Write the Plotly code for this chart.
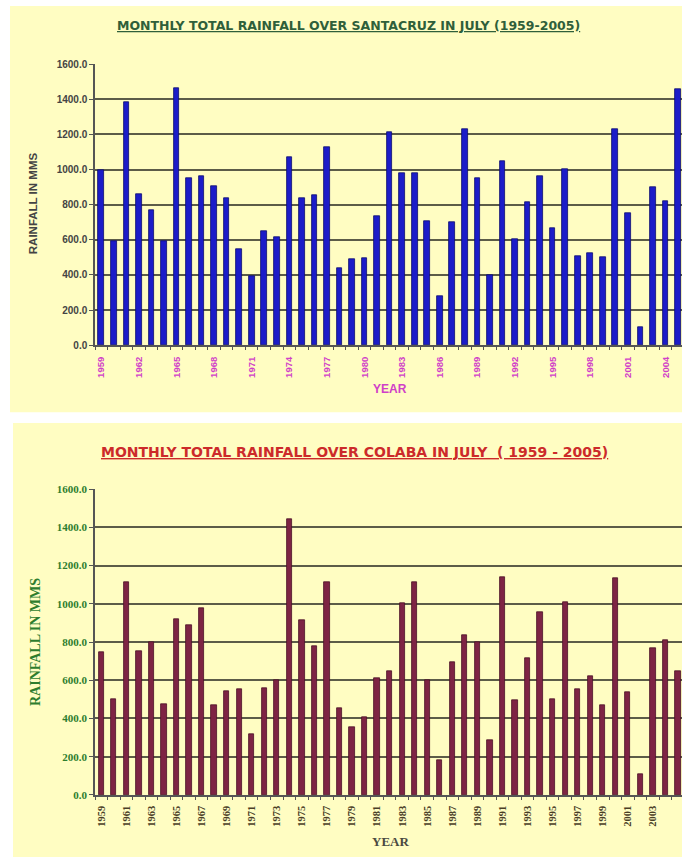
import plotly.graph_objects as go

years = list(range(1959, 2006))

santacruz_mm = [995, 595, 1385, 862, 766, 592, 1463, 950, 963, 903,
                837, 548, 393, 650, 613, 1071, 837, 856, 1127, 441,
                488, 497, 734, 1211, 978, 978, 707, 282, 701, 1230,
                950, 398, 1049, 604, 813, 963, 664, 1000, 505, 523,
                499, 1230, 750, 103, 899, 819, 1458]

colaba_mm = [748, 502, 1115, 754, 797, 473, 920, 886, 977, 470,
             542, 551, 318, 559, 602, 1445, 912, 779, 1115, 455,
             353, 408, 611, 650, 1003, 1115, 602, 180, 692, 838,
             797, 284, 1139, 495, 717, 955, 499, 1010, 551, 619,
             468, 1132, 537, 110, 769, 809, 645]

top_tick_years = years[::3]
bottom_tick_years = years[::2]
y_ticks = [0, 200, 400, 600, 800, 1000, 1200, 1400, 1600]
y_tick_text = [f"{v:.1f}" for v in y_ticks]

title_top = "MONTHLY TOTAL RAINFALL OVER SANTACRUZ IN JULY (1959-2005)"
title_bottom = "MONTHLY TOTAL RAINFALL OVER COLABA IN JULY  ( 1959 - 2005)"

W, H = 682, 863
def py(px):
    return 1 - px / H
def px_(x):
    return x / W

YELLOW = "#FFFDC2"
GRID = "#5c5c48"
SANS = "Liberation Sans, Arial"
SERIF = "Liberation Serif, Times New Roman"

fig = go.Figure()
fig.add_trace(go.Bar(x=years, y=santacruz_mm, xaxis="x", yaxis="y", width=0.45,
                     marker=dict(color="#1c1cc8", line=dict(color="#0c0c70", width=0.8)),
                     showlegend=False))
fig.add_trace(go.Bar(x=years, y=colaba_mm, xaxis="x2", yaxis="y2", width=0.42,
                     marker=dict(color="#7e2444", line=dict(color="#4a1026", width=0.8)),
                     showlegend=False))

xr = [1958.5, 2005.32]
common_x = dict(range=xr, showgrid=False, zeroline=False, showline=True, linecolor="#555555",
                linewidth=1.5, tickangle=-90, ticks="outside", tickcolor="rgba(0,0,0,0)",
                minor=dict(ticks="outside", dtick=1, tick0=1958.5, ticklen=3, tickcolor="#555555"))
common_y = dict(range=[0, 1600], tickvals=y_ticks, ticktext=y_tick_text, showgrid=True,
                gridcolor=GRID, gridwidth=1.5, zeroline=False, showline=True, linecolor="#555555",
                linewidth=1.5, ticks="outside", ticklen=4, tickcolor="#555555")

def ann(text, x, y, font, angle=0):
    return dict(text=text, xref="paper", yref="paper", x=px_(x), y=py(y), xanchor="center",
                yanchor="middle", textangle=angle, showarrow=False, font=font)

fig.update_layout(
    width=W, height=H, margin=dict(l=0, r=0, t=0, b=0),
    paper_bgcolor="white", plot_bgcolor=YELLOW, bargap=0,
    xaxis=dict(**common_x, domain=[px_(95), 1], anchor="y", ticklen=6,
               tickvals=top_tick_years, ticktext=[str(v) for v in top_tick_years],
               tickfont=dict(family=SANS, size=9.5, color="#d040c8", weight="bold")),
    yaxis=dict(**common_y, domain=[py(344), py(59)], anchor="x",
               tickfont=dict(family=SANS, size=10, color="#444444", weight="bold")),
    xaxis2=dict(**common_x, domain=[px_(95), 1], anchor="y2", ticklen=5,
                tickvals=bottom_tick_years, ticktext=[str(v) for v in bottom_tick_years],
                tickfont=dict(family=SERIF, size=10.5, color="#4a3e26", weight="bold")),
    yaxis2=dict(**common_y, domain=[py(800), py(490)], anchor="x2",
                tickfont=dict(family=SERIF, size=11, color="#2e7d2e", weight="bold")),
    shapes=[
        dict(type="rect", xref="paper", yref="paper", x0=px_(10), x1=1, y0=py(412), y1=1,
             fillcolor=YELLOW, line=dict(width=0), layer="below"),
        dict(type="rect", xref="paper", yref="paper", x0=px_(13), x1=1, y0=0, y1=py(423),
             fillcolor=YELLOW, line=dict(width=0), layer="below"),
    ],
    annotations=[
        ann(f"<b><u>{title_top}</u></b>", 348, 20,
            dict(family="DejaVu Sans", size=12.5, color="#2f5f3a")),
        ann("<b>RAINFALL IN MMS</b>", 33, 200, dict(family=SANS, size=11.5, color="#444444"), -90),
        ann("<b>YEAR</b>", 390, 388, dict(family=SANS, size=12, color="#d040c8")),
        ann(f"<b><u>{title_bottom}</u></b>", 354, 452,
            dict(family="DejaVu Sans", size=14, color="#cc2a2a")),
        ann("<b>RAINFALL IN MMS</b>", 35, 645, dict(family=SERIF, size=14, color="#2e7d2e"), -90),
        ann("<b>YEAR</b>", 390, 847, dict(family=SERIF, size=13, color="#4a4a40")),
    ],
)

fig.write_html("out.html", config={"displayModeBar": False},
               post_script="document.body.style.margin='0';document.body.style.overflow='hidden';")
